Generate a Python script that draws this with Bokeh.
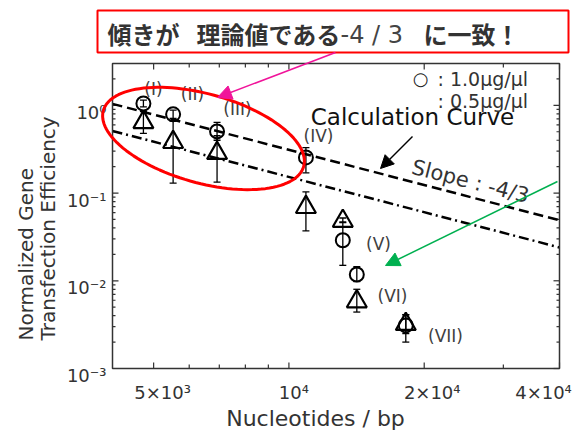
import numpy as np
from bokeh.plotting import figure
from bokeh.models import (Range1d, Label, Arrow, NormalHead, Whisker, TeeHead,
                          ColumnDataSource, BoxAnnotation, PolyAnnotation)
from bokeh.embed import file_html
from bokeh.resources import INLINE

# ---------------- data ----------------
samples = ["(I)", "(II)", "(III)", "(IV)", "(V)", "(VI)", "(VII)"]
nucleotides = [4745, 5525, 6920, 10910, 13180, 14160, 18200]
eff_1_0 = [1.05, 0.79, 0.505, 0.255, 0.029, 0.0118, 0.0031]
eff_1_0_lo = [0.96, 0.71, 0.40, 0.17, 0.015, 0.0098, 0.0025]
eff_1_0_hi = [1.15, 0.88, 0.64, 0.33, 0.047, 0.0145, 0.0041]
eff_0_5 = [0.64, 0.38, 0.285, 0.069, 0.048, 0.0058, 0.0032]
eff_0_5_lo = [0.48, 0.13, 0.133, 0.037, 0.046, 0.0044, 0.0020]
eff_0_5_hi = [0.85, 0.66, 0.45, 0.103, 0.052, 0.0080, 0.0041]
curve_x = [4050, 40000]
curve_1_0 = [1.04, 0.049]
curve_0_5 = [0.51, 0.024]
x_limits = [4050, 40000]
y_limits = [1e-3, 3.0]
x_tick_values = [5000, 10000, 20000, 40000]
x_tick_labels = ["5×10³", "10⁴", "2×10⁴", "4×10⁴"]
x_minor_values = [6000, 7000, 8000, 9000, 30000]
y_tick_values = [1e-3, 1e-2, 1e-1, 1]
y_tick_labels = ["10⁻³", "10⁻²", "10⁻¹", "10⁰"]
y_minor_values = [k * 10.0 ** e for e in range(-3, 1) for k in range(2, 10) if k * 10.0 ** e < 3]

# ---------------- layout (pixels of the page) ----------------
W, H = 580, 432
BOX_L, BOX_R, BOX_T, BOX_B = 112, 559, 63, 368
FONT = "DejaVu Sans"
JP = "Noto Sans CJK JP"
TXT = "#333333"

lx0, lx1 = np.log10(x_limits)
ly0, ly1 = np.log10(y_limits)
kx = (lx1 - lx0) / (BOX_R - BOX_L)
ky = (ly1 - ly0) / (BOX_B - BOX_T)
xr = Range1d(10 ** (lx0 - BOX_L * kx), 10 ** (lx1 + (W - BOX_R) * kx))
yr = Range1d(10 ** (ly0 - (H - BOX_B) * ky), 10 ** (ly1 + BOX_T * ky))

p = figure(width=W, height=H, x_axis_type="log", y_axis_type="log",
           x_range=xr, y_range=yr, x_axis_location=None, y_axis_location=None,
           output_backend="svg", toolbar_location=None,
           min_border=0, min_border_left=0, min_border_right=0,
           min_border_top=0, min_border_bottom=0)
p.grid.visible = False
p.outline_line_color = None
p.background_fill_color = "white"
p.border_fill_color = "white"

# frame and inward ticks (drawn through the log scales)
p.add_layout(BoxAnnotation(left=x_limits[0], right=x_limits[1], bottom=y_limits[0], top=y_limits[1],
                           fill_alpha=0, line_color="#333333", line_alpha=1, line_width=1.5))
def xticks(vals, L):
    f = 10 ** (L * ky)
    v = list(vals)
    p.segment(v, [y_limits[0]] * len(v), v, [y_limits[0] * f] * len(v), line_color="#333333", line_width=1.2)
    p.segment(v, [y_limits[1]] * len(v), v, [y_limits[1] / f] * len(v), line_color="#333333", line_width=1.2)
def yticks(vals, L):
    f = 10 ** (L * kx)
    v = list(vals)
    p.segment([x_limits[0]] * len(v), v, [x_limits[0] * f] * len(v), v, line_color="#333333", line_width=1.2)
    p.segment([x_limits[1]] * len(v), v, [x_limits[1] / f] * len(v), v, line_color="#333333", line_width=1.2)
xticks(x_tick_values, 6)
xticks(x_minor_values, 4)
yticks(y_tick_values, 6)
yticks(y_minor_values, 3)

# calculation curves
p.line(curve_x, curve_1_0, line_color="black", line_width=2.5, line_dash="10 5")
p.line(curve_x, curve_0_5, line_color="black", line_width=2.5, line_dash="10 4 2 4")

src = ColumnDataSource(dict(x=nucleotides, y1=eff_1_0, lo1=eff_1_0_lo, hi1=eff_1_0_hi,
                            y2=eff_0_5, lo2=eff_0_5_lo, hi2=eff_0_5_hi))
for lo, hi in (("lo1", "hi1"), ("lo2", "hi2")):
    p.add_layout(Whisker(source=src, base="x", lower=lo, upper=hi, dimension="height",
                         line_color="black", line_width=1.3,
                         lower_head=TeeHead(size=7, line_color="black", line_width=1.3),
                         upper_head=TeeHead(size=7, line_color="black", line_width=1.3)))
p.scatter("x", "y1", source=src, marker="circle", size=14, fill_color=None,
          line_color="black", line_width=2)
p.scatter("x", "y2", source=src, marker="triangle", size=20, fill_color=None,
          line_color="black", line_width=2.2)

def lab(x, y, text, size, color=TXT, font=FONT, align="center", baseline="middle",
        angle=0, style="normal", xu="screen", yu="screen", xo=0, yo=0):
    # screen positions are given as page pixels from the top-left corner
    if yu == "screen":
        y = H - y
    p.add_layout(Label(x=x, y=y, x_units=xu, y_units=yu, text=text, text_font=font,
                       text_font_size=f"{size}px", text_color=color, text_align=align,
                       text_baseline=baseline, angle=angle, text_font_style=style,
                       x_offset=xo, y_offset=yo))

# tick labels
x_label_shift = [9, 5, 8, -16]
for v, t, s in zip(x_tick_values, x_tick_labels, x_label_shift):
    lab(v, 392, t, 18, xu="data", xo=s)
for v, t in zip(y_tick_values, y_tick_labels):
    lab(106, v, t, 18, align="right", yu="data", yo=-7)

# axis titles
lab(315, 418, "Nucleotides / bp", 22)
lab(25, 340, "Normalized Gene", 20, align="left", angle=np.pi / 2)
lab(47, 340, "Transfection Efficiency", 20, align="left", angle=np.pi / 2)

# sample labels
sample_pos = [(153, 88), (192, 93), (237, 108), (318, 135), (378, 243), (392, 295), (445, 335)]
for name, (sx, sy) in zip(samples, sample_pos):
    lab(sx, sy, name, 17, color="#404040")

# legend
lab(420, 78, "○", 18, color="#222222")
lab(437, 78, ": 1.0μg/μl", 19, align="left")
lab(437, 100, ": 0.5μg/μl", 19, align="left")

# curve annotation
lab(412, 116, "Calculation Curve", 23, color="#111111")
lab(470, 181, "Slope : -4/3", 21, angle=-0.25)
def arrow(x0, y0, x1, y1, color, size):
    p.add_layout(Arrow(x_start=x0, y_start=H - y0, x_end=x1, y_end=H - y1,
                       start_units="screen", end_units="screen", line_color=color, line_width=1.5,
                       end=NormalHead(size=size, fill_color=color, line_color=color)))
arrow(412, 136, 380, 168, "black", 13)

# red ellipse
t = np.linspace(0, 2 * np.pi, 120)
th = -0.272
ex = 203 + 104 * np.cos(t) * np.cos(th) - 44.5 * np.sin(t) * np.sin(th)
ey = (H - 138) + 104 * np.cos(t) * np.sin(th) + 44.5 * np.sin(t) * np.cos(th)
p.add_layout(PolyAnnotation(xs=list(ex), ys=list(ey), xs_units="screen", ys_units="screen",
                            fill_alpha=0, line_color="#FF0000", line_alpha=1, line_width=3))

# title box
p.add_layout(BoxAnnotation(left=97, right=568, top=H - 10, bottom=H - 52,
                           left_units="screen", right_units="screen",
                           top_units="screen", bottom_units="screen",
                           fill_color="white", fill_alpha=1, line_color="#FF0000",
                           line_alpha=1, line_width=2))
lab(107, 33, "傾きが", 24, font=JP, align="left", style="bold")
lab(196, 33, "理論値である", 24, font=JP, align="left", style="bold")
lab(340, 34, "-4 / 3", 24, font=FONT, align="left", color="#444444")
lab(423, 33, "に一致！", 24, font=JP, align="left", style="bold")

# pointer arrows
arrow(335, 52, 217, 97, "#F0149A", 14)
arrow(557, 181, 385, 265, "#00B050", 14)

open("out.html", "w").write(file_html(p, INLINE))
